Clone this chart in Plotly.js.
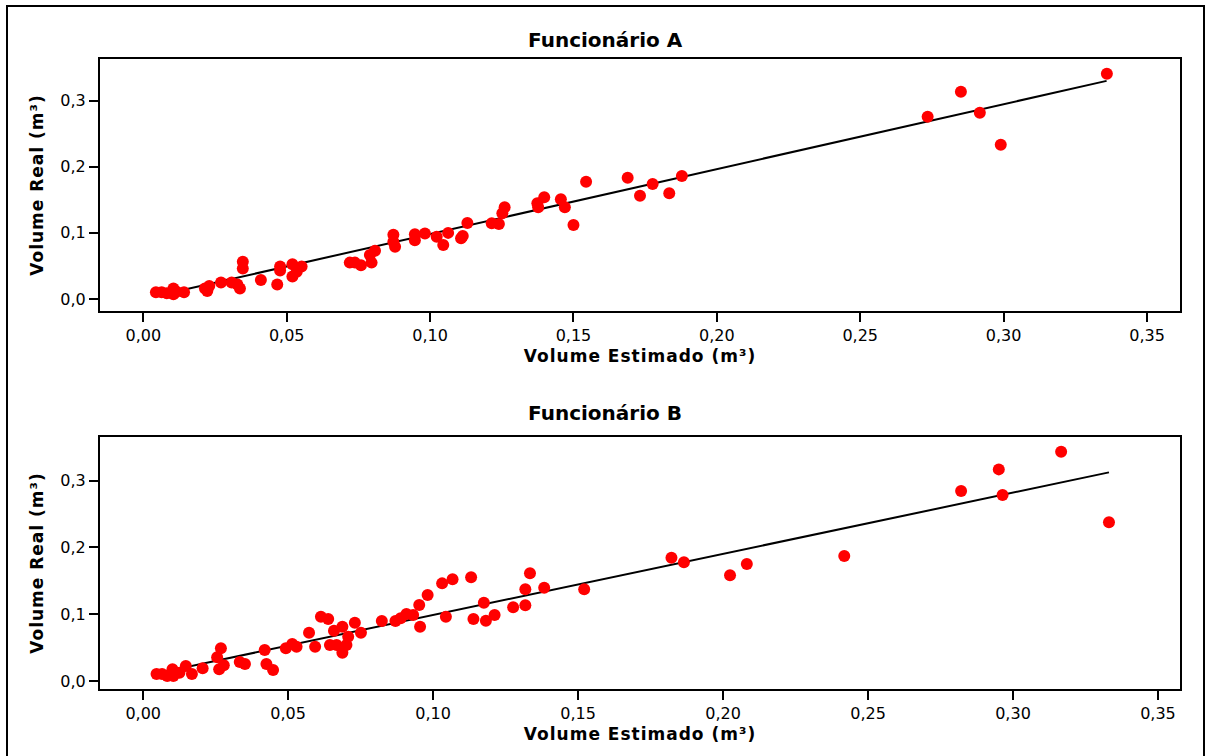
<!DOCTYPE html>
<html>
<head>
<meta charset="utf-8">
<script src="https://cdn.plot.ly/plotly-3.0.1.min.js"></script>
<style>
  html, body { margin: 0; padding: 0; background: #ffffff; }
  #chart { width: 1206px; height: 756px; }
  text.xtitle, text.x2title, text.ytitle, text.y2title { letter-spacing: 1px; }
</style>
</head>
<body>
<div id="chart"></div>
<script>
// Funcionário A: estimated vs real volume (m³)
const estA = [0.0044,0.0064,0.0082,0.0105,0.0105,0.0116,0.0142,0.0215,0.0223,0.0230,
  0.0271,0.0308,0.0328,0.0337,0.0347,0.0347,0.0410,0.0467,0.0477,0.0477,
  0.0520,0.0520,0.0535,0.0552,0.0720,0.0738,0.0759,0.0796,0.0790,0.0808,
  0.0872,0.0872,0.0878,0.0947,0.0947,0.0982,0.1023,0.1046,0.1063,0.1108,
  0.1114,0.1130,0.1215,0.1240,0.1252,0.1260,0.1374,0.1377,0.1398,0.1456,
  0.1470,0.1500,0.1544,0.1689,0.1732,0.1776,0.1834,0.1878,0.2735,0.2851,
  0.2917,0.2990,0.3360];
const realA = [0.010,0.010,0.0086,0.016,0.007,0.011,0.010,0.016,0.012,0.0197,
  0.025,0.025,0.022,0.016,0.0565,0.046,0.0287,0.022,0.049,0.043,
  0.0525,0.034,0.041,0.049,0.055,0.055,0.051,0.055,0.0666,0.073,
  0.097,0.0867,0.079,0.098,0.089,0.099,0.094,0.0817,0.100,0.0918,
  0.0953,0.115,0.1145,0.1135,0.1297,0.1387,0.1448,0.1387,0.1539,0.151,
  0.1387,0.112,0.1775,0.1835,0.1563,0.174,0.160,0.186,0.2758,0.3136,
  0.2818,0.2334,0.3408];
const fitA_x = [0.0044, 0.3359];
const fitA_y = [0.0044, 0.3300];

// Funcionário B
const estB = [0.0046,0.0065,0.0083,0.0101,0.0104,0.0125,0.0147,0.0168,0.0205,0.0255,
  0.0268,0.0262,0.0278,0.0333,0.0351,0.0419,0.0425,0.0448,0.0492,0.0514,
  0.0529,0.0572,0.0593,0.0613,0.0638,0.0644,0.0658,0.0667,0.0687,0.0687,
  0.0701,0.0707,0.0730,0.0751,0.0823,0.0870,0.0888,0.0908,0.0931,0.0952,
  0.0955,0.0981,0.1031,0.1044,0.1067,0.1131,0.1139,0.1175,0.1182,0.1212,
  0.1276,0.1318,0.1318,0.1334,0.1383,0.1521,0.1822,0.1865,0.2024,0.2082,
  0.2418,0.2821,0.2951,0.2964,0.3166,0.3331];
const realB = [0.0105,0.0105,0.0075,0.0175,0.0075,0.0124,0.0225,0.0105,0.019,0.0355,
  0.049,0.0175,0.0235,0.0284,0.0254,0.0464,0.0254,0.0165,0.049,0.0554,
  0.0514,0.0723,0.0514,0.0963,0.0928,0.0539,0.0753,0.0539,0.0813,0.0424,
  0.0539,0.0663,0.0873,0.0723,0.0898,0.0898,0.0939,0.1003,0.0988,0.1138,
  0.0813,0.1287,0.1462,0.0963,0.1522,0.1552,0.0928,0.1172,0.0903,0.0988,
  0.1103,0.1133,0.1373,0.1612,0.1397,0.1373,0.1846,0.1777,0.1582,0.1751,
  0.1871,0.2844,0.3169,0.2784,0.3433,0.2376];
const fitB_x = [0.0046, 0.3331];
const fitB_y = [0.0114, 0.3124];

const titles = ["Funcionário A", "Funcionário B"];
const xTitle = "Volume Estimado (m³)";
const yTitle = "Volume Real (m³)";

const FONT = "DejaVu Sans, Verdana, sans-serif";
const W = 1206, H = 756;

const traces = [
  {x: fitA_x, y: fitA_y, xaxis: 'x', yaxis: 'y', mode: 'lines', type: 'scatter',
   line: {color: '#000000', width: 2}, hoverinfo: 'skip'},
  {x: estA, y: realA, xaxis: 'x', yaxis: 'y', mode: 'markers', type: 'scatter',
   marker: {color: '#ff0000', size: 12}},
  {x: fitB_x, y: fitB_y, xaxis: 'x2', yaxis: 'y2', mode: 'lines', type: 'scatter',
   line: {color: '#000000', width: 2}, hoverinfo: 'skip'},
  {x: estB, y: realB, xaxis: 'x2', yaxis: 'y2', mode: 'markers', type: 'scatter',
   marker: {color: '#ff0000', size: 12}}
];

function xax(domain, range) {
  return {
    domain: domain, range: range, tick0: 0, dtick: 0.05, tickformat: '.2f',
    showgrid: false, zeroline: false, showline: true, mirror: true,
    linecolor: '#000000', linewidth: 2, ticks: 'outside', ticklen: 9,
    tickwidth: 2, tickcolor: '#000000',
    tickfont: {family: FONT, size: 16, color: '#000000'},
    title: {text: xTitle, standoff: 6,
            font: {family: FONT, size: 17, weight: 'bold', color: '#000000'}},
    automargin: false, fixedrange: true
  };
}
function yax(domain, range, anchor) {
  return {
    domain: domain, range: range, tick0: 0, dtick: 0.1, tickformat: '.1f',
    showgrid: false, zeroline: false, showline: true, mirror: true,
    linecolor: '#000000', linewidth: 2, ticks: 'outside', ticklen: 9,
    tickwidth: 2, tickcolor: '#000000', anchor: anchor,
    tickfont: {family: FONT, size: 16, color: '#000000'},
    title: {text: yTitle, standoff: 12,
            font: {family: FONT, size: 17, weight: 'bold', color: '#000000'}},
    automargin: false, fixedrange: true
  };
}

const xd = [100 / W, 1180 / W];
const x1 = xax(xd, [-0.0151, 0.3615]); x1.anchor = 'y';
const x2 = xax(xd, [-0.0149, 0.3576]); x2.anchor = 'y2';

const layout = {
  width: W, height: H,
  margin: {l: 0, r: 0, t: 0, b: 0},
  paper_bgcolor: '#ffffff', plot_bgcolor: '#ffffff',
  separators: ',.',
  showlegend: false,
  font: {family: FONT, color: '#000000'},
  xaxis: x1,
  yaxis: yax([1 - 311 / H, 1 - 59 / H], [-0.0182, 0.3631], 'x'),
  xaxis2: x2,
  yaxis2: yax([1 - 689 / H, 1 - 437 / H], [-0.0120, 0.3654], 'x2'),
  annotations: [
    {text: titles[0], xref: 'paper', yref: 'paper', x: 605 / W, y: 1 - 40 / H,
     xanchor: 'center', yanchor: 'middle', showarrow: false,
     font: {family: FONT, size: 20, weight: 'bold', color: '#000000'}},
    {text: titles[1], xref: 'paper', yref: 'paper', x: 605 / W, y: 1 - 413 / H,
     xanchor: 'center', yanchor: 'middle', showarrow: false,
     font: {family: FONT, size: 20, weight: 'bold', color: '#000000'}}
  ],
  shapes: [
    {type: 'rect', xref: 'paper', yref: 'paper',
     x0: 7 / W, x1: 1204 / W, y0: -0.05, y1: 1 - 6 / H,
     line: {color: '#000000', width: 2}, layer: 'below'}
  ]
};

Plotly.newPlot('chart', traces, layout, {displayModeBar: false, staticPlot: true});
</script>
</body>
</html>
